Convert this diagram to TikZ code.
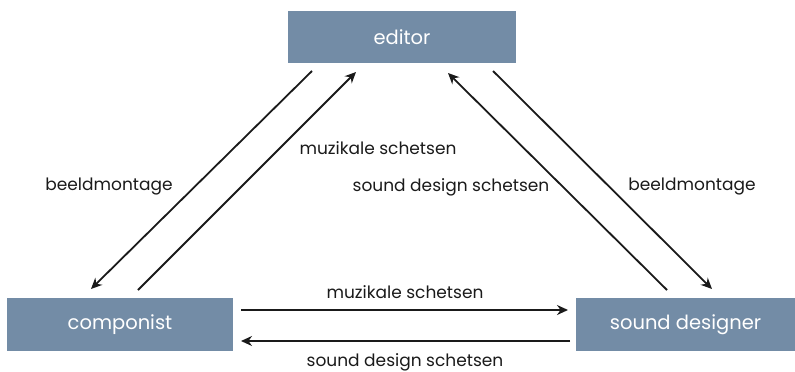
\documentclass[tikz,border=0pt]{standalone}
\usepackage{fontspec}
\setmainfont{Poppins}
\usetikzlibrary{arrows.meta}
\definecolor{boxblue}{HTML}{738CA6}
\definecolor{ink}{HTML}{1A1A1A}
\begin{document}
\begin{tikzpicture}[x=1pt,y=-1pt,
  role/.style={rectangle,fill=boxblue,draw=none,text=white,inner sep=0pt,
    font=\fontsize{19.5}{22}\selectfont},
  lbl/.style={text=ink,font=\fontsize{17}{20}\selectfont,inner sep=0pt},
  flow/.style={draw=ink,line width=1.8pt,-{Stealth[length=11pt,width=10pt]}}]
\useasboundingbox (0,0) rectangle (795,372);
% the three roles
\node[role,minimum width=228pt,minimum height=52pt] (ed) at (402,37) {editor};
\node[role,minimum width=226pt,minimum height=53pt] (co) at (120,324.5) {componist};
\node[role,minimum width=219pt,minimum height=53pt] (sd) at (685.5,324.5) {sound designer};
% connector end points
\coordinate (a1) at (312,71);  \coordinate (a2) at (91,289);
\coordinate (b1) at (138,290); \coordinate (b2) at (356,72);
\coordinate (c1) at (667,290); \coordinate (c2) at (448,73);
\coordinate (d1) at (493,71);  \coordinate (d2) at (712,289);
\coordinate (e1) at (241,310); \coordinate (e2) at (568,310);
\coordinate (f1) at (570,341); \coordinate (f2) at (241,341);
\draw[flow] (a1) -- (a2);
\draw[flow] (b1) -- (b2);
\draw[flow] (c1) -- (c2);
\draw[flow] (d1) -- (d2);
\draw[flow] (e1) -- (e2);
\draw[flow] (f1) -- (f2);
% labels
\node[lbl] (l1) at (109,187) {beeldmontage};
\node[lbl] (l2) at (378,148) {muzikale schetsen};
\node[lbl] (l3) at (451,187) {sound design schetsen};
\node[lbl] (l4) at (692,187) {beeldmontage};
\node[lbl] (l5) at (405,292) {muzikale schetsen};
\node[lbl] (l6) at (405,362) {sound design schetsen};
\end{tikzpicture}
\end{document}
